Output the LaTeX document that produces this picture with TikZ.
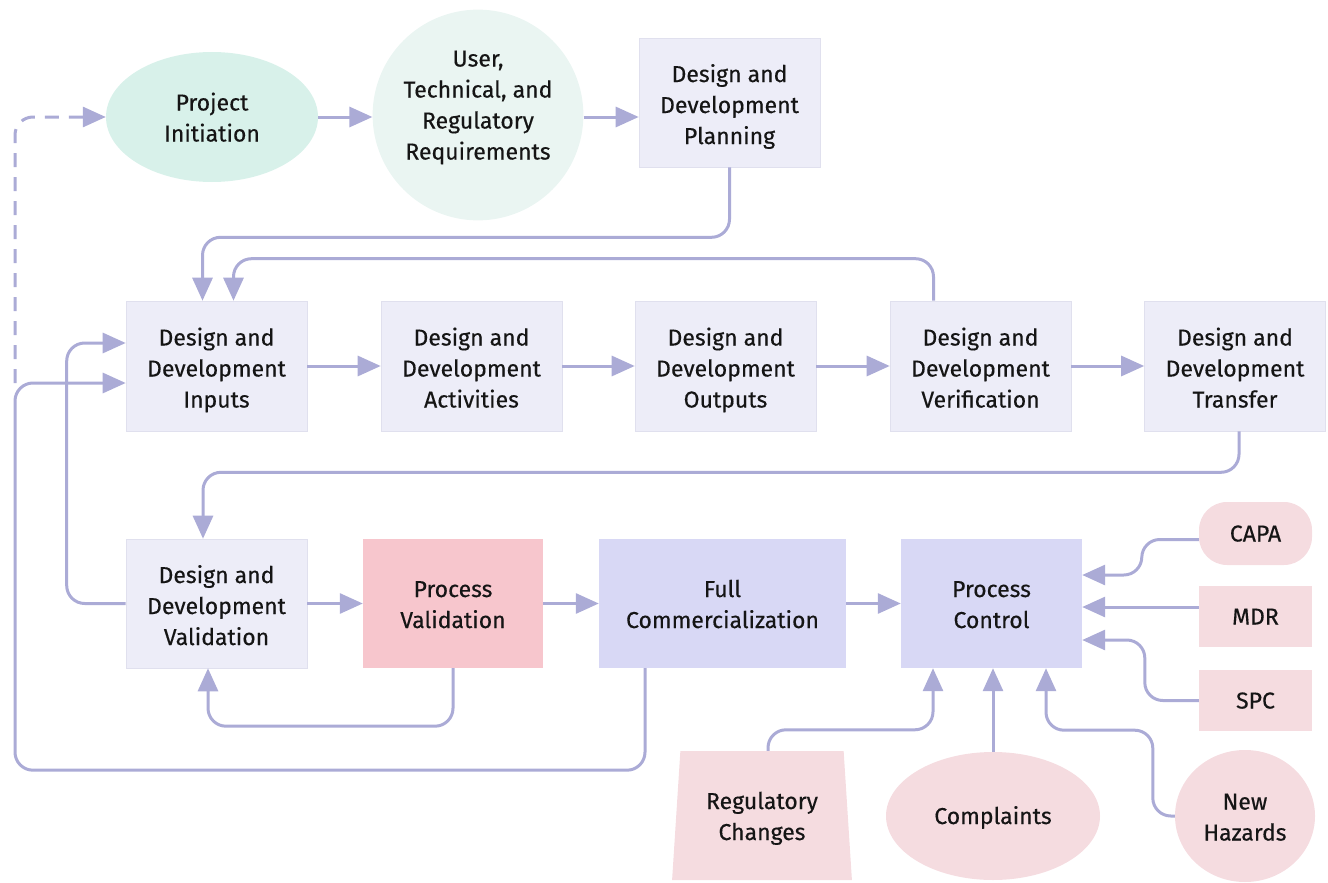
\documentclass[tikz,border=0pt]{standalone}
\usepackage{fontspec}
\setmainfont{Fira Sans}[UprightFeatures={FakeBold=0.35}]
\usetikzlibrary{arrows.meta,shapes.geometric,calc}

\definecolor{linec}{HTML}{ABABD6}
\definecolor{mintfill}{HTML}{D8F1EA}
\definecolor{palemint}{HTML}{EAF5F2}
\definecolor{ddfill}{HTML}{EDEDF8}
\definecolor{ddedge}{HTML}{E0E0EE}
\definecolor{pvfill}{HTML}{F7C6CD}
\definecolor{lavfill}{HTML}{D8D8F5}
\definecolor{pinkfill}{HTML}{F5DCE0}
\definecolor{txt}{HTML}{151515}

% struts that set the height of a first text line
\newcommand\topstrut{\rule{0pt}{26pt}}
\newcommand\twostrut{\rule{0pt}{23pt}}

\tikzset{
  base/.style={align=center, text=txt, inner sep=0pt,
    execute at begin node={\rule{0pt}{21pt}},
    execute at end node={\rule[-5pt]{0pt}{0pt}}},
  ddbox/.style={base, rectangle, fill=ddfill, draw=ddedge, line width=0.6pt,
    minimum width=181pt, minimum height=130pt},
  lavbox/.style={base, rectangle, fill=lavfill, minimum height=130pt},
  pinkbox/.style={base, rectangle, fill=pinkfill, minimum width=113pt},
  conn/.style={draw=linec, line width=3pt, rounded corners=18pt,
    -{Triangle[length=23pt,width=20pt]}},
  dashconn/.style={conn, dash pattern=on 14pt off 10pt},
}

\begin{document}
\begin{tikzpicture}[x=1pt, y=-1pt, font=\fontsize{23}{31}\selectfont]
\useasboundingbox (0,0) rectangle (1328,883);

% top row
\node[base, ellipse, fill=mintfill, minimum width=212pt, minimum height=130pt]
  (pi) at (212,117) {\twostrut Project\\Initiation};
\node[base, circle, fill=palemint, minimum size=206pt]
  (urr) at (478,115) {\topstrut User,\\Technical, and\\Regulatory\\Requirements\rule[-30pt]{0pt}{0pt}};
\node[ddbox, minimum height=129pt] (plan) at (729.5,102.5) {\topstrut Design and\\Development\\Planning};

% design and development chain
\node[ddbox] (inp) at (216.5,366) {\topstrut Design and\\Development\\Inputs};
\node[ddbox] (act) at (471.5,366) {\topstrut Design and\\Development\\Activities};
\node[ddbox] (out) at (725.5,366) {\topstrut Design and\\Development\\Outputs};
\node[ddbox] (ver) at (980.5,366) {\topstrut Design and\\Development\\Verification};
\node[ddbox] (tra) at (1235,366) {\topstrut Design and\\Development\\Transfer};

% validation and production row
\node[ddbox, minimum height=129pt] (val) at (216.5,603.5) {\topstrut Design and\\Development\\Validation};
\node[base, rectangle, fill=pvfill, minimum width=180pt, minimum height=129pt]
  (pv) at (453,603.5) {\twostrut Process\\Validation};
\node[lavbox, minimum width=247pt, minimum height=129pt] (fc) at (722.5,603.5) {\twostrut Full\\Commercialization};
\node[lavbox, minimum width=181pt, minimum height=129pt] (pc) at (991.5,603.5) {\twostrut Process\\Control};

% inputs to process control
\node[pinkbox, minimum height=63pt, rounded corners=28pt] (capa) at (1255.5,533.5) {CAPA};
\node[pinkbox, minimum height=61pt] (mdr) at (1255.5,616.5) {MDR};
\node[pinkbox, minimum height=61pt] (spc) at (1255.5,700.5) {SPC};
\node[base, trapezium, fill=pinkfill, trapezium stretches=true,
  trapezium left angle=84.5, trapezium right angle=84.5,
  minimum width=180pt, minimum height=129pt] (rc) at (762,815.5) {\twostrut Regulatory\\Changes};
\node[base, ellipse, fill=pinkfill, minimum width=214pt, minimum height=128pt]
  (comp) at (993,816) {Complaints};
\node[base, ellipse, fill=pinkfill, minimum width=140pt, minimum height=132pt]
  (nh) at (1245,816) {\twostrut New\\Hazards};

% junction of the return path on the left
\coordinate (j) at (15,383);

% connectors
\draw[conn] (pi.east) -- (pi.east -| urr.west);
\draw[conn] (urr.east |- pi.east) -- (pi.east -| plan.west);
\draw[conn] (plan.south) -- ++(0,70) -| ([xshift=-14pt]inp.north);
\draw[conn] ([xshift=-47pt]ver.north) -- ++(0,-42) -| ([xshift=17pt]inp.north);
\draw[conn] (inp) -- (act);
\draw[conn] (act) -- (out);
\draw[conn] (out) -- (ver);
\draw[conn] (ver) -- (tra);
\draw[conn] ([xshift=4pt]tra.south) -- ++(0,41) -| ([xshift=-13.5pt]val.north);
\draw[conn] (val.west) -- ++(-59,0) |- ([yshift=23pt]inp.west);
\draw[conn] ([xshift=-77.5pt]fc.south) -- ++(0,102) -| (j) -- (j -| inp.west);
\draw[dashconn] (j) |- (pi.west);
\draw[conn] (val) -- (pv);
\draw[conn] (pv.south) -- ++(0,58) -| ([xshift=-8.5pt]val.south);
\draw[conn] (pv) -- (fc);
\draw[conn] (fc) -- (pc);
\draw[conn] ([yshift=-6pt]capa.west) -- ++(-57,0) |- ([yshift=28.5pt]pc.east);
\draw[conn] ([yshift=9.5pt]mdr.west) coordinate (m1) -- (m1 -| pc.east);
\draw[conn] (spc.west) -- ++(-54,0) |- ([yshift=-36.5pt]pc.east);
\draw[conn] ([xshift=6pt]rc.north) -- ++(0,-21) -| ([xshift=-58.5pt]pc.south);
\draw[conn] (comp.north) -- (comp.north |- pc.south);
\draw[conn] (nh.west) -- ++(-22,0) |- ($(pc.south)+(54.5,62)$) -- ([xshift=54.5pt]pc.south);
\end{tikzpicture}
\end{document}
